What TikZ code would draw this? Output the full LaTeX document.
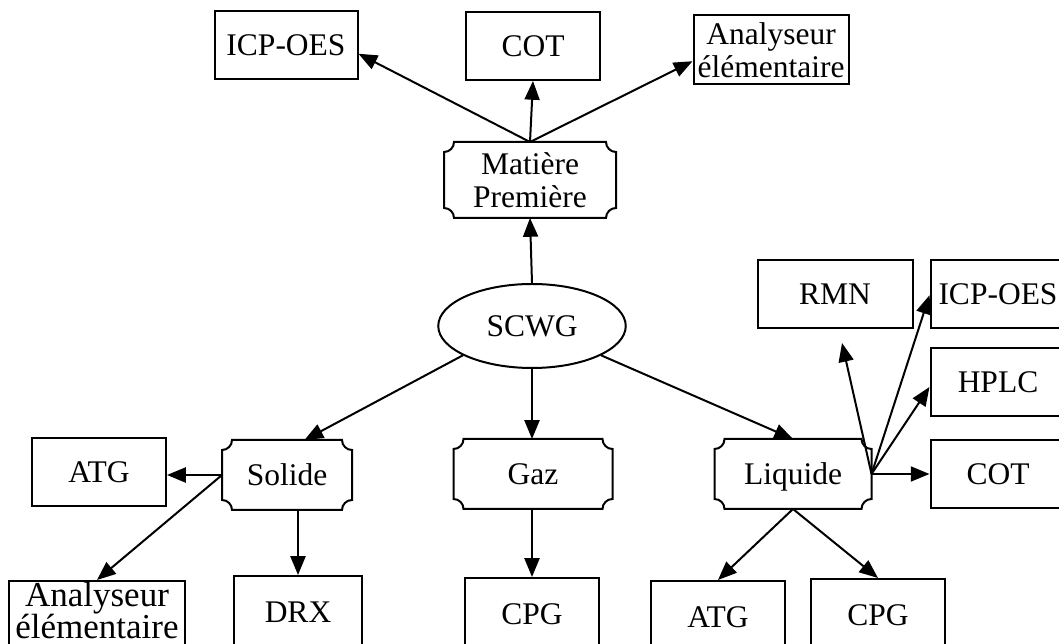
\documentclass[tikz,border=0pt]{standalone}
\usepackage{fontspec}
\setmainfont{Liberation Serif}
\usetikzlibrary{shapes.geometric, arrows.meta, positioning}

% border of a plaque node (concave corners)
\newcommand{\plaqueborder}[1]{%
  \draw[line width=0.8pt] ([xshift=4pt]#1.north west) -- ([xshift=-4pt]#1.north east)
    arc[start angle=180, end angle=270, radius=4pt] -- ([yshift=4pt]#1.south east)
    arc[start angle=90, end angle=180, radius=4pt] -- ([xshift=4pt]#1.south west)
    arc[start angle=0, end angle=90, radius=4pt] -- ([yshift=-4pt]#1.north west)
    arc[start angle=270, end angle=360, radius=4pt] -- cycle;}

\begin{document}
\begin{tikzpicture}[x=0.4pt, y=-0.4pt,
    txt/.style={font=\fontsize{12.6}{13}\selectfont, align=center, inner sep=1pt},
    oneline/.style={text height=10.5pt, text depth=2pt},
    box/.style={txt, rectangle, draw, line width=0.8pt, minimum width=53.6pt, minimum height=27.2pt},
    plaque/.style={txt, rectangle, minimum height=27.6pt},
    arr/.style={-{Triangle[length=7.5pt, width=6pt]}, line width=0.8pt}]
    \useasboundingbox (0,0) rectangle (1059,644);

    % top
    \node[box, oneline, minimum width=57.2pt] (icpA) at (286,45) {ICP-OES};
    \node[box, oneline] (cotA) at (533,46) {COT};
    \node[box, minimum width=62pt, minimum height=27.6pt] (anaA) at (771,50) {Analyseur\\élémentaire};
    \node[plaque, minimum width=68.4pt, minimum height=30pt] (mat) at (530,180) {Matière\\Première};
    \node[ellipse, draw, line width=0.8pt, minimum width=75pt, minimum height=33.6pt, txt, oneline] (scwg) at (532,326) {SCWG};

    % middle row
    \node[box, oneline] (atgA) at (99,472) {ATG};
    \node[plaque, oneline, minimum width=51.6pt] (sol) at (287,475) {Solide};
    \node[plaque, oneline, minimum width=63.2pt] (gaz) at (533,474) {Gaz};
    \node[plaque, oneline, minimum width=62.4pt] (liq) at (793,474) {Liquide};

    % right column
    \node[box, oneline, minimum width=62pt] (rmn) at (835,294) {RMN};
    \node[box, oneline, minimum width=54pt] (icpB) at (998,294) {ICP-OES};
    \node[box, oneline, minimum width=54pt] (hplc) at (998,382) {HPLC};
    \node[box, oneline, minimum width=54pt] (cotB) at (998,474) {COT};
    \coordinate (rmnend) at (842,343);

    % bottom row
    \node[box, anchor=north, minimum width=70pt, inner ysep=0.5pt, text depth=6pt, font=\fontsize{14}{12.8}\selectfont] (anaB) at (97,580) {Analyseur\\élémentaire};
    \node[box, oneline, anchor=north, minimum width=51.2pt, minimum height=28.8pt] (drx) at (298,575) {DRX};
    \node[box, oneline, anchor=north, minimum height=28.8pt] (cpgA) at (532,577) {CPG};
    \node[box, oneline, anchor=north, minimum height=28.8pt] (atgB) at (718,580) {ATG};
    \node[box, oneline, anchor=north, minimum height=28.8pt] (cpgB) at (878,578) {CPG};

    \foreach \n in {mat, sol, gaz, liq} {\plaqueborder{\n}}

    \draw[arr] (scwg.north) -- (mat.south);
    \draw[arr] (mat.north) -- (cotA.south);
    \draw[arr] (mat.north) -- ([yshift=-3.5pt]icpA.east);
    \draw[arr] (mat.north) -- ([yshift=-4.5pt]anaA.west);

    \draw[arr] (scwg.203) -- ([xshift=7pt]sol.north);
    \draw[arr] (scwg.south) -- (scwg.south |- gaz.north);
    \draw[arr] (scwg.337) -- (liq.north);

    \draw[arr] (sol.west) -- (sol.west -| atgA.east);
    \draw[arr] (sol.west) -- (anaB.north);
    \draw[arr] (drx.north |- sol.south) -- (drx.north);
    \draw[arr] (cpgA.north |- gaz.south) -- (cpgA.north);

    \draw[arr] (liq.south) -- (atgB.north);
    \draw[arr] (liq.south) -- (cpgB.north);
    \draw[arr] (liq.east) -- (liq.east -| cotB.west);
    \draw[arr] (liq.east) -- ([yshift=-2pt]hplc.west);
    \draw[arr] (liq.east) -- ([yshift=-0.5pt]icpB.west);
    \draw[arr] (liq.east) -- (rmnend);
\end{tikzpicture}
\end{document}
